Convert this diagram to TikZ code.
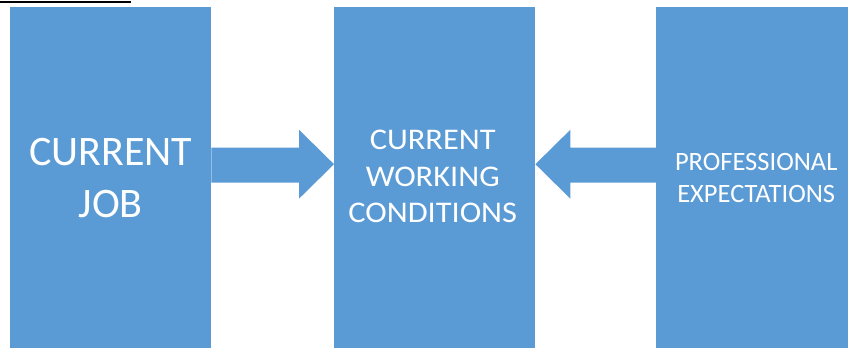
\documentclass[tikz,border=0pt]{standalone}
\usepackage{fontspec}
\setmainfont{Carlito}
\newfontfamily\widefont[FakeStretch=1.08]{Carlito}
\usetikzlibrary{calc}
\definecolor{boxblue}{RGB}{91,155,213}
\tikzset{
  blk/.style={fill=boxblue, draw=none, inner sep=0pt, anchor=north west, text=white, align=center},
  arrowfill/.style={fill=boxblue, draw=none}
}
\begin{document}
\begin{tikzpicture}[x=1pt, y=-1pt]
\useasboundingbox (0,0) rectangle (848,348);
\clip (0,0) rectangle (848,348);
\fill[white] (0,0) rectangle (848,348);
\coordinate (l1) at (0,1.5);
\coordinate (l2) at (131,1.5);
\draw[line width=2pt] (l1) -- (l2);
\node[blk, minimum width=201pt, minimum height=341pt] (b1) at (10,7) {};
\node[text=white, align=center, font=\fontsize{42}{52}\selectfont] (t1) at (b1.center) {CURRENT\\JOB};
\node[blk, minimum width=201pt, minimum height=341pt] (b2) at (334,7) {};
\node[text=white, align=center, font=\widefont\fontsize{30}{36.5}\selectfont] (t2) at ([xshift=-2pt,yshift=1pt]b2.center) {CURRENT\\WORKING\\CONDITIONS};
\node[blk, minimum width=200pt, minimum height=341pt] (b3) at (656,7) {};
\node[text=white, align=center, font=\fontsize{26.5}{32}\selectfont] (t3) at ([xshift=0pt]b3.center) {PROFESSIONAL\\EXPECTATIONS};
\fill[arrowfill] ($(b1.east)+(0,-30)$) -- ($(b2.west)+(-35,-30)$) -- ($(b2.west)+(-35,-48)$) -- ($(b2.west)+(0,-13.5)$) -- ($(b2.west)+(-35,21)$) -- ($(b2.west)+(-35,5)$) -- ($(b1.east)+(0,5)$) -- cycle;
\fill[arrowfill] ($(b3.west)+(0,-30)$) -- ($(b2.east)+(35,-30)$) -- ($(b2.east)+(35,-48)$) -- ($(b2.east)+(0,-13.5)$) -- ($(b2.east)+(35,21)$) -- ($(b2.east)+(35,5)$) -- ($(b3.west)+(0,5)$) -- cycle;
\end{tikzpicture}
\end{document}
